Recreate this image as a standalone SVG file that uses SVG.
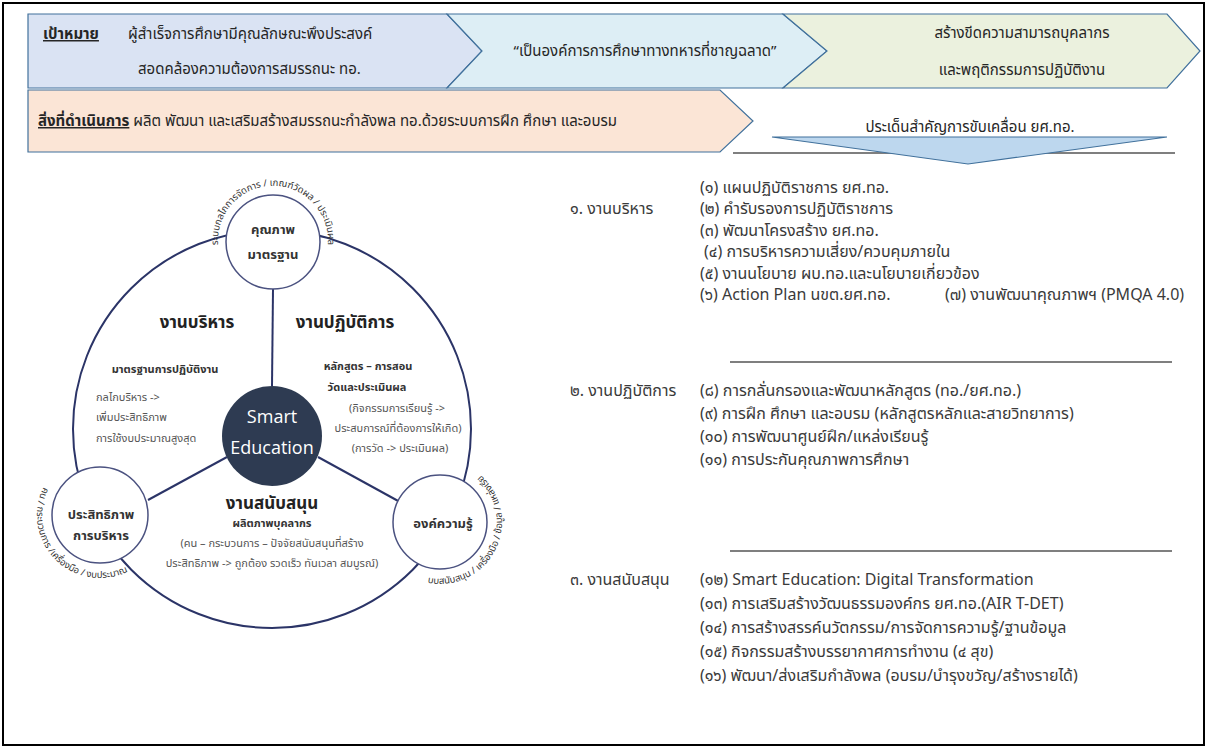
<svg xmlns="http://www.w3.org/2000/svg" width="1208" height="749" viewBox="0 0 1208 749">
<style>
  text { font-family: "Noto Sans Thai", "Noto Sans", "Liberation Sans", sans-serif; fill: #262626; }
  .hd { font-size: 15px; }
  .b { font-weight: bold; }
  .u { text-decoration: underline; }
  .box { stroke: #41719C; stroke-width: 1.2; }
  .lst { font-size: 16px; fill: #3a3a3a; }
  .big { font-size: 17px; font-weight: bold; fill: #222; }
  .sub { font-size: 11px; font-weight: bold; fill: #333; }
  .gr { font-size: 11px; fill: #555; }
  .cn { font-size: 13px; font-weight: bold; fill: #333; text-anchor: middle; }
  .arc { font-size: 9.5px; fill: #333; }
  .sm { font-family: "Open Sans", "Liberation Sans", sans-serif; font-size: 18px; fill: #fff; text-anchor: middle; }
  .mid { text-anchor: middle; }
  .ring { fill: #fff; stroke: #4B5280; stroke-width: 1.5; }
  .con { stroke: #2B3467; stroke-width: 2; fill: none; }
  .rule { stroke: #000; stroke-width: 1.2; }
</style>
<defs>
  <path id="arcTop" d="M 220.2 256.2 A 55 55 0 1 1 325.8 256.2"/>
  <path id="arcBL" d="M 45.4 483.5 A 63 63 0 0 0 131.5 569.6"/>
  <path id="arcBR" d="M 429.2 583 A 62 62 0 0 0 479.9 474.5"/>
</defs>
<rect x="3" y="3" width="1201" height="742" fill="#fff" stroke="#000" stroke-width="2"/>

<g id="goal">
  <polygon class="box" points="28,14 447,14 482,51 447,88 28,88" fill="#DAE3F3"/>
  <text class="hd b u" x="43" y="39">เป้าหมาย</text>
  <text class="hd" x="128" y="39">ผู้สำเร็จการศึกษามีคุณลักษณะพึงประสงค์</text>
  <text class="hd" x="138" y="74">สอดคล้องความต้องการสมรรถนะ ทอ.</text>
</g>
<g id="vision">
  <polygon class="box" points="447,14 783,14 827,51 783,88 447,88 482,51" fill="#DDEEF5"/>
  <text class="hd mid" x="645" y="56">“เป็นองค์การการศึกษาทางทหารที่ชาญฉลาด”</text>
</g>
<g id="capability">
  <polygon class="box" points="783,14 1167,14 1200,51 1167,88 783,88 827,51" fill="#EBF1DE"/>
  <text class="hd mid" x="1022" y="38">สร้างขีดความสามารถบุคลากร</text>
  <text class="hd mid" x="1022" y="75">และพฤติกรรมการปฏิบัติงาน</text>
</g>
<g id="action">
  <polygon class="box" points="28,90 720,90 753,121 720,152 28,152" fill="#FBE5D6"/>
  <text class="hd" x="38" y="126"><tspan class="b u">สิ่งที่ดำเนินการ</tspan> ผลิต พัฒนา และเสริมสร้างสมรรถนะกำลังพล ทอ.ด้วยระบบการฝึก ศึกษา และอบรม</text>
</g>
<g id="issues">
  <text class="hd mid" x="970" y="132">ประเด็นสำคัญการขับเคลื่อน ยศ.ทอ.</text>
  <line class="rule" x1="733" y1="153" x2="1175" y2="153"/>
  <polygon class="box" points="772,137 1167,137 968,164" fill="#BDD7EE"/>
</g>

<g id="connectors">
  <circle class="con" cx="272" cy="429" r="199"/>
  <line class="con" x1="273" y1="289" x2="272" y2="386"/>
  <line class="con" x1="227" y1="457" x2="148" y2="500"/>
  <line class="con" x1="318" y1="457" x2="400" y2="502"/>
</g>

<g id="quality">
  <circle class="ring" cx="273" cy="242" r="47"/>
  <text class="cn" x="273" y="234">คุณภาพ</text>
  <text class="cn" x="273" y="259">มาตรฐาน</text>
  <text class="arc"><textPath href="#arcTop" startOffset="50%" text-anchor="middle">ระบบกลไกการจัดการ / เกณฑ์วัดผล / ประเมินผล</textPath></text>
</g>
<g id="efficiency">
  <circle class="ring" cx="100" cy="515" r="48"/>
  <text class="cn" x="101" y="519">ประสิทธิภาพ</text>
  <text class="cn" x="101" y="540">การบริหาร</text>
  <text class="arc"><textPath href="#arcBL" startOffset="50%" text-anchor="middle">คน / กระบวนการ /เครื่องมือ / งบประมาณ</textPath></text>
</g>
<g id="knowledge">
  <circle class="ring" cx="440" cy="522" r="47"/>
  <text class="cn" x="443" y="528">องค์ความรู้</text>
  <text class="arc"><textPath href="#arcBR" startOffset="50%" text-anchor="middle">ระบบสนับสนุน / เครื่องมือ / ข้อมูล / แหล่งเรียนรู้</textPath></text>
</g>
<g id="smart">
  <circle cx="272" cy="436" r="50" fill="#2E3B52"/>
  <text class="sm" x="272" y="423">Smart</text>
  <text class="sm" x="272" y="454">Education</text>
</g>
<g id="admin">
  <text class="big mid" x="197" y="328">งานบริหาร</text>
  <text class="sub mid" x="165" y="373">มาตรฐานการปฏิบัติงาน</text>
  <text class="gr" x="96" y="401">กลไกบริหาร -&gt;</text>
  <text class="gr" x="96" y="421">เพิ่มประสิทธิภาพ</text>
  <text class="gr" x="96" y="442">การใช้งบประมาณสูงสุด</text>
</g>
<g id="operation">
  <text class="big mid" x="345" y="328">งานปฏิบัติการ</text>
  <text class="sub mid" x="368" y="370">หลักสูตร – การสอน</text>
  <text class="sub mid" x="367" y="391">วัดและประเมินผล</text>
  <text class="gr mid" x="397" y="412">(กิจกรรมการเรียนรู้ -&gt;</text>
  <text class="gr mid" x="398" y="432">ประสบการณ์ที่ต้องการให้เกิด)</text>
  <text class="gr mid" x="400" y="452">(การวัด -&gt; ประเมินผล)</text>
</g>
<g id="support">
  <text class="big mid" x="272" y="509">งานสนับสนุน</text>
  <text class="sub mid" x="272" y="527">ผลิตภาพบุคลากร</text>
  <text class="gr mid" x="272" y="547">(คน – กระบวนการ – ปัจจัยสนับสนุนที่สร้าง</text>
  <text class="gr mid" x="272" y="567">ประสิทธิภาพ -&gt; ถูกต้อง รวดเร็ว ทันเวลา สมบูรณ์)</text>
</g>

<g id="list-admin">
  <text class="lst" x="570" y="214">๑. งานบริหาร</text>
  <text class="lst" x="700" y="193">(๑) แผนปฏิบัติราชการ ยศ.ทอ.</text>
  <text class="lst" x="700" y="214">(๒) คำรับรองการปฏิบัติราชการ</text>
  <text class="lst" x="700" y="236">(๓) พัฒนาโครงสร้าง ยศ.ทอ.</text>
  <text class="lst" x="704" y="257">(๔)  การบริหารความเสี่ยง/ควบคุมภายใน</text>
  <text class="lst" x="700" y="279">(๕) งานนโยบาย ผบ.ทอ.และนโยบายเกี่ยวข้อง</text>
  <text class="lst" x="700" y="300">(๖) Action Plan นขต.ยศ.ทอ.</text>
  <text class="lst" x="945" y="300">(๗) งานพัฒนาคุณภาพฯ (PMQA  4.0)</text>
  <line class="rule" x1="730" y1="362" x2="1172" y2="362"/>
</g>
<g id="list-operation">
  <text class="lst" x="570" y="396">๒. งานปฏิบัติการ</text>
  <text class="lst" x="700" y="396">(๘) การกลั่นกรองและพัฒนาหลักสูตร (ทอ./ยศ.ทอ.)</text>
  <text class="lst" x="700" y="419">(๙) การฝึก ศึกษา และอบรม (หลักสูตรหลักและสายวิทยาการ)</text>
  <text class="lst" x="700" y="442">(๑๐) การพัฒนาศูนย์ฝึก/แหล่งเรียนรู้</text>
  <text class="lst" x="700" y="465">(๑๑) การประกันคุณภาพการศึกษา</text>
  <line class="rule" x1="730" y1="551" x2="1172" y2="551"/>
</g>
<g id="list-support">
  <text class="lst" x="570" y="585">๓. งานสนับสนุน</text>
  <text class="lst" x="700" y="585">(๑๒) Smart Education: Digital Transformation</text>
  <text class="lst" x="700" y="609">(๑๓) การเสริมสร้างวัฒนธรรมองค์กร ยศ.ทอ.(AIR T-DET)</text>
  <text class="lst" x="700" y="633">(๑๔) การสร้างสรรค์นวัตกรรม/การจัดการความรู้/ฐานข้อมูล</text>
  <text class="lst" x="700" y="657">(๑๕) กิจกรรมสร้างบรรยากาศการทำงาน (๔ สุข)</text>
  <text class="lst" x="700" y="681">(๑๖) พัฒนา/ส่งเสริมกำลังพล (อบรม/บำรุงขวัญ/สร้างรายได้)</text>
</g>
</svg>
